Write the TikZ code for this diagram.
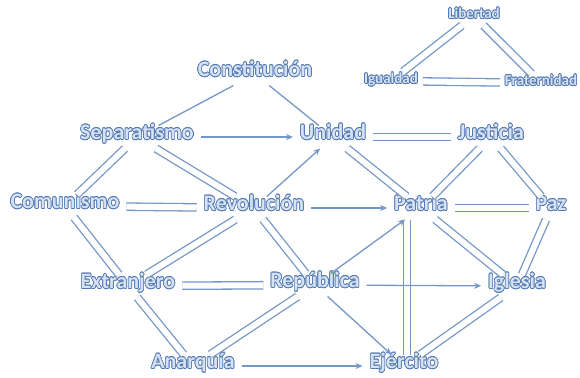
\documentclass[tikz,border=0pt]{standalone}
\usepackage{fontspec}
\setmainfont{Carlito}
\usepackage{contour}
\contourlength{0.7pt}
\usetikzlibrary{arrows.meta}
\definecolor{lineblue}{RGB}{116,151,201}
\definecolor{wordedge}{RGB}{84,122,180}
\definecolor{wordfill}{RGB}{214,226,242}
\newcommand{\glow}[1]{\contour{wordedge}{\textcolor{wordfill}{#1}}}

\begin{document}
\begin{tikzpicture}[
    x=1pt, y=-1pt,
    >={Stealth[length=7pt,width=6pt]},
    word/.style={inner sep=3pt, outer sep=4pt, text height=0.7em, text depth=0.2em, font=\fontsize{22}{24}\selectfont\bfseries},
    smallword/.style={word, inner sep=2pt, outer sep=3pt, font=\fontsize{15}{17}\selectfont\bfseries},
    link/.style={draw=lineblue, line width=1.3pt, double=white, double distance=6pt},
    plainlink/.style={draw=lineblue, line width=1.3pt},
    arrowlink/.style={->, draw=lineblue, line width=1.3pt}
]
\useasboundingbox (0,0) rectangle (580,377);

% Small triangle
\node[smallword] (lib) at (474,16) {\glow{Libertad}};
\node[smallword] (igu) at (391,81) {\glow{Igualdad}};
\node[smallword] (fra) at (541,83) {\glow{Fraternidad}};

% Main words
\node[word] (con) at (255,74) {\glow{Constitución}};
\node[word] (sep) at (137,137) {\glow{Separatismo}};
\node[word] (uni) at (333,137) {\glow{Unidad}};
\node[word] (jus) at (491,137) {\glow{Justicia}};
\node[word] (com) at (65,206) {\glow{Comunismo}};
\node[word] (rev) at (254,208) {\glow{Revolución}};
\node[word] (pat) at (421,208) {\glow{Patria}};
\node[word] (paz) at (551,208) {\glow{Paz}};
\node[word] (ext) at (128,286) {\glow{Extranjero}};
\node[word] (rep) at (315,285) {\glow{República}};
\node[word] (igl) at (517,286) {\glow{Iglesia}};
\node[word] (ana) at (193,366) {\glow{Anarquía}};
\node[word] (eje) at (404,366) {\glow{Ejército}};

% Double links
\draw[link] (lib) -- (igu);
\draw[link] (lib) -- (fra);
\draw[link] (igu) -- (fra);
\draw[link] (sep) -- (com);
\draw[link] (sep) -- (rev);
\draw[link] (com) -- (rev);
\draw[link] (com) -- (ext);
\draw[link] (rev) -- (ext);
\draw[link] (rev) -- (rep);
\draw[link] (ext) -- (rep);
\draw[link] (ext) -- (ana);
\draw[link] (ana) -- (rep);
\draw[link] (uni) -- (jus);
\draw[link] (uni) -- (pat);
\draw[link] (jus) -- (pat);
\draw[link] (jus) -- (paz);
\draw[link] (pat) -- (paz);
\draw[link] (pat) -- (igl);
\draw[link] ([xshift=3pt]eje.north |- pat.south) -- ([xshift=3pt]eje.north);
\draw[link] (paz) -- (igl);
\draw[link] (igl) -- (eje);

% Single lines and arrows
\draw[plainlink] (con) -- (sep);
\draw[plainlink] (con) -- (uni);
\draw[arrowlink] (sep) -- (uni);
\draw[arrowlink] (rev) -- (uni);
\draw[arrowlink] (rev) -- (pat);
\draw[arrowlink] (rep) -- (pat);
\draw[arrowlink] (rep) -- (igl);
\draw[arrowlink] (rep) -- (eje);
\draw[arrowlink] (ana) -- (eje);

\end{tikzpicture}
\end{document}
